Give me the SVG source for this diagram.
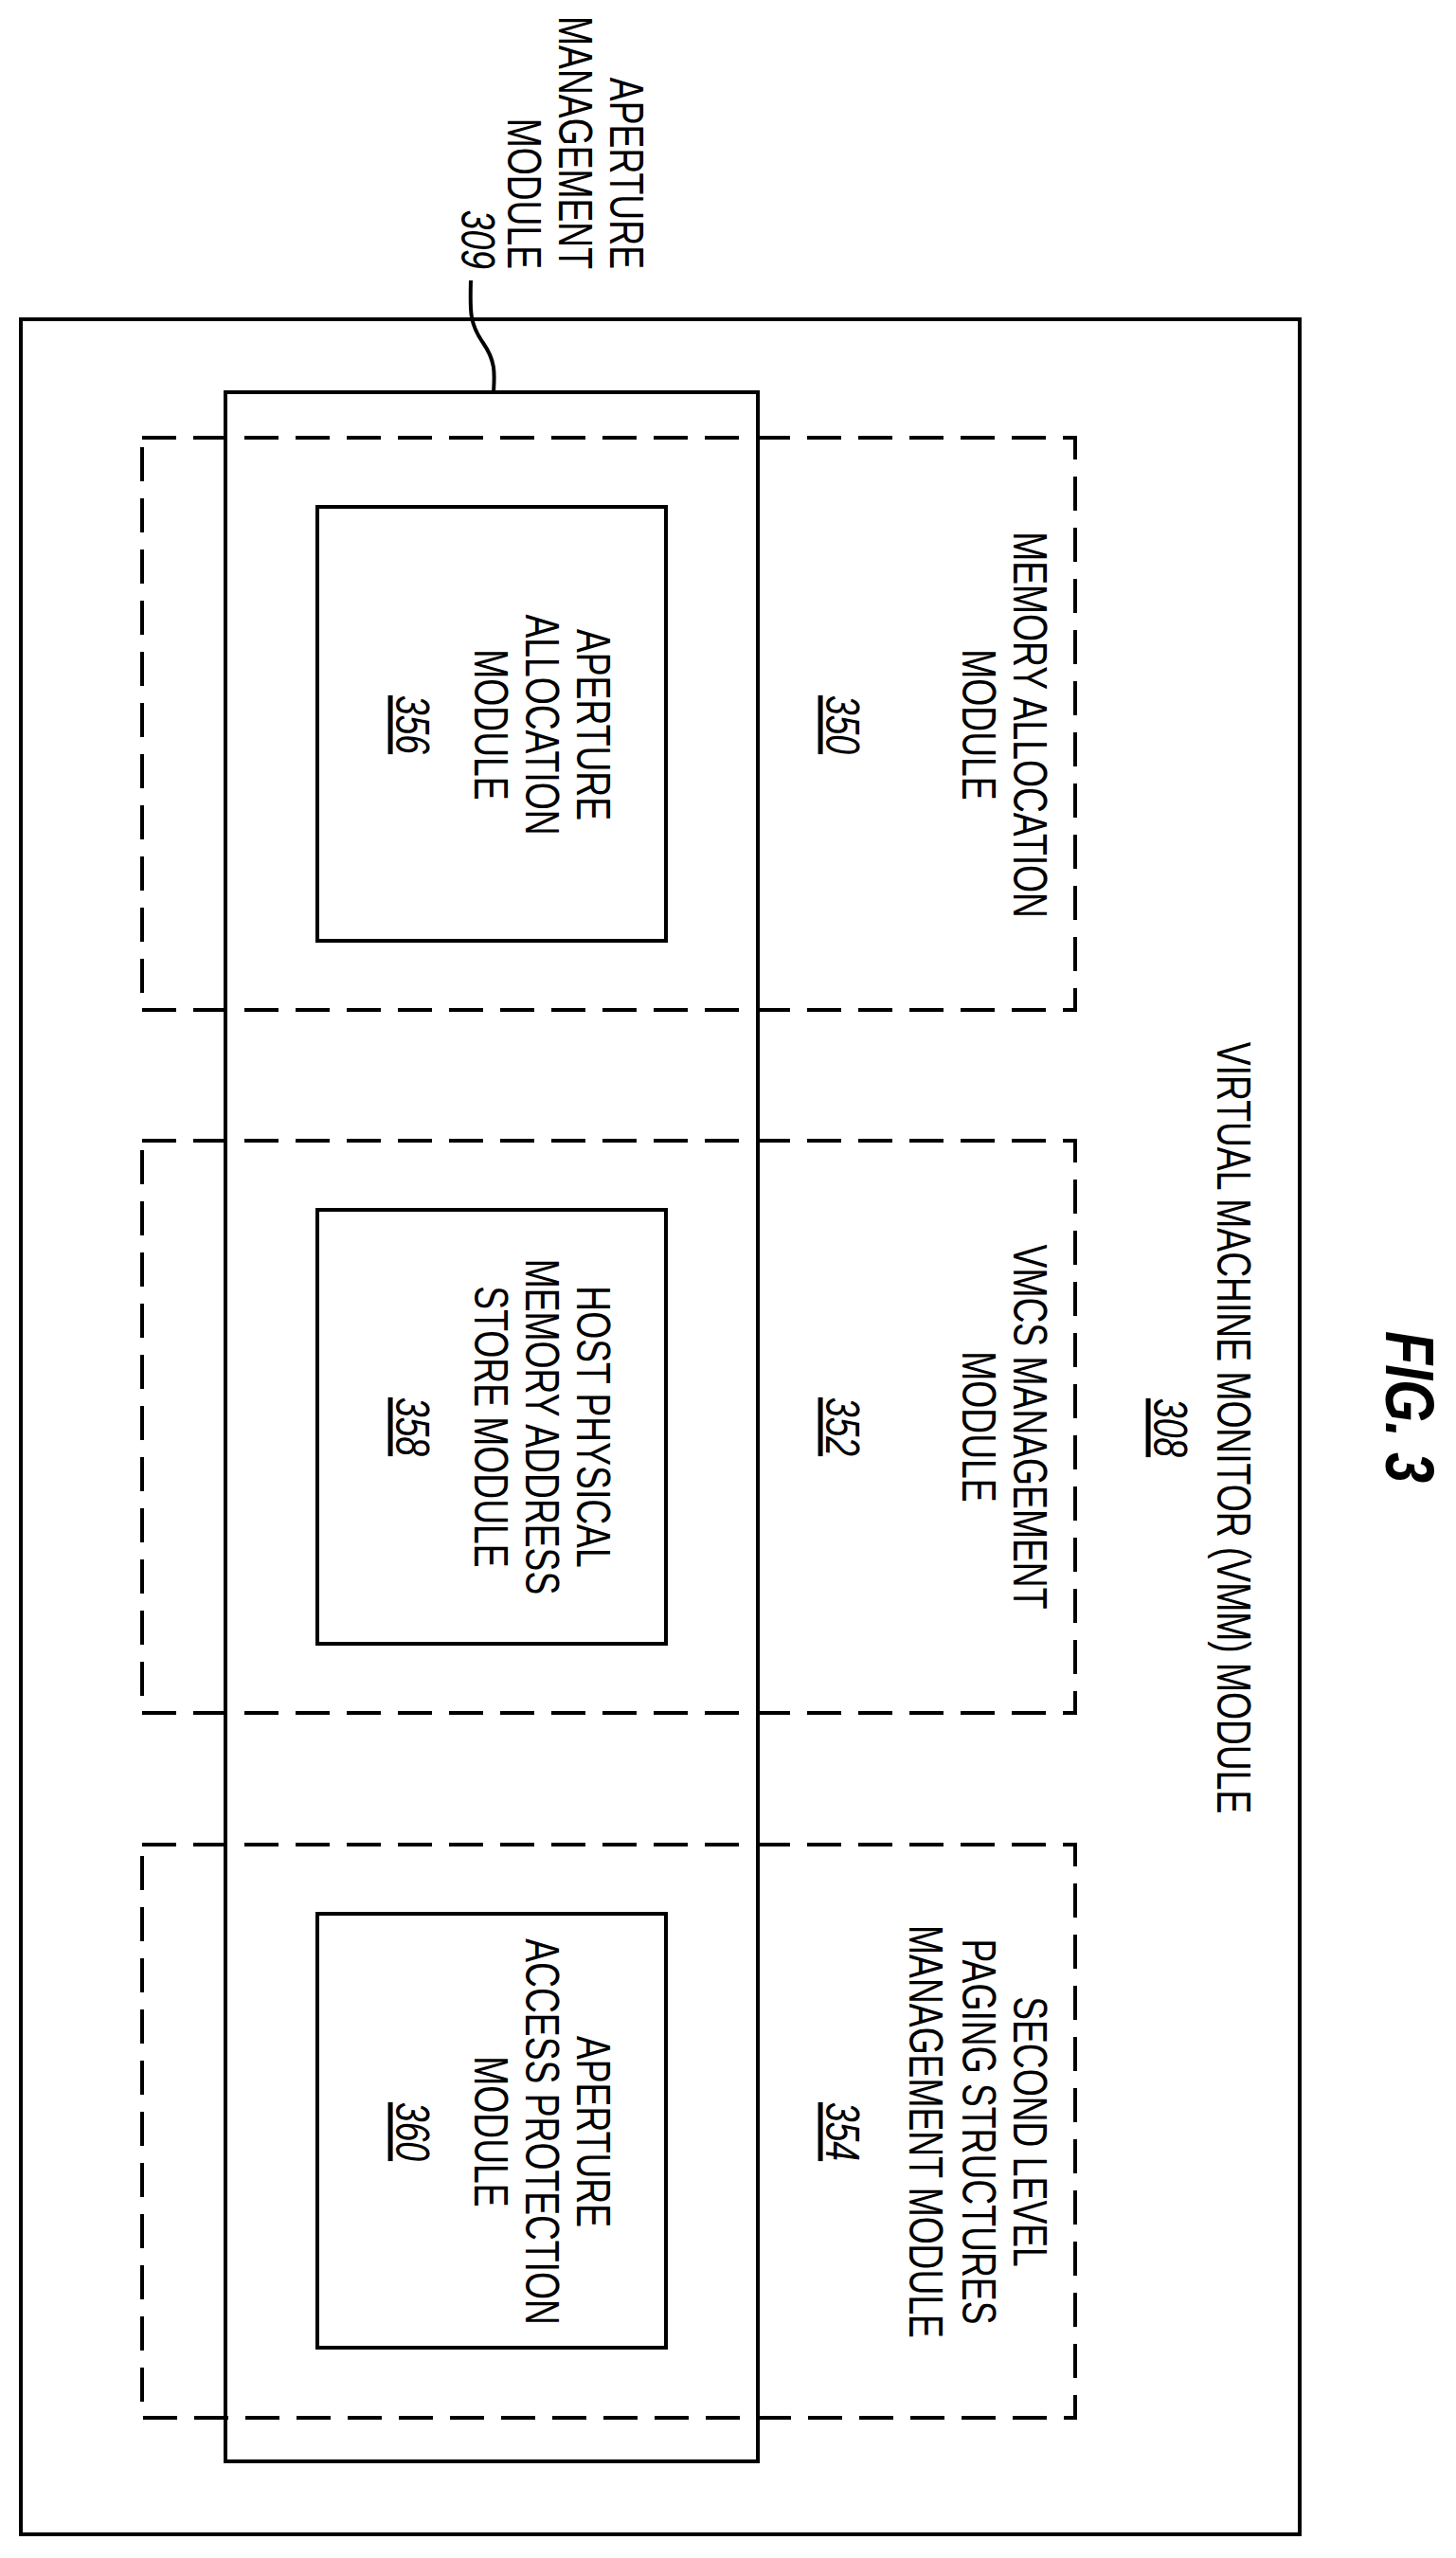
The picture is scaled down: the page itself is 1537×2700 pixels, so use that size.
<svg xmlns="http://www.w3.org/2000/svg" width="1537" height="2700" viewBox="0 0 1537 2700">
<style>
.s{fill:none;stroke:#000;stroke-width:4}
.d{fill:none;stroke:#000;stroke-width:4;stroke-dasharray:36 18}
text{font-family:"Liberation Sans",Arial,sans-serif;font-size:50px;fill:#000;text-anchor:middle}
.n{font-style:italic;text-decoration:underline}
</style>
<rect width="1537" height="2700" fill="#fff"/>
<g id="vmm">
<rect class="s" x="22" y="337" width="1350" height="2338"/>
<g transform="translate(0,1507) rotate(90) scale(0.745,1)">
<text y="-1285">VIRTUAL MACHINE MONITOR (VMM) MODULE</text>
<text y="-1218" class="n">308</text>
</g>
</g>
<g id="mem350">
<rect class="d" x="150" y="462" width="985" height="604"/>
<g transform="translate(0,765) rotate(90) scale(0.745,1)">
<text y="-1070">MEMORY ALLOCATION</text><text y="-1016">MODULE</text><text y="-872" class="n">350</text>
</g>
</g>
<g id="vmcs352">
<rect class="d" x="150" y="1204" width="985" height="604"/>
<g transform="translate(0,1506) rotate(90) scale(0.745,1)">
<text y="-1070">VMCS MANAGEMENT</text><text y="-1016">MODULE</text><text y="-872" class="n">352</text>
</g>
</g>
<g id="slp354">
<rect class="d" x="150" y="1947" width="985" height="605"/>
<g transform="translate(0,2250) rotate(90) scale(0.745,1)">
<text y="-1070">SECOND LEVEL</text><text y="-1016">PAGING STRUCTURES</text><text y="-960">MANAGEMENT MODULE</text><text y="-872" class="n">354</text>
</g>
</g>
<g id="apm309">
<rect class="s" x="238" y="414" width="562" height="2184"/>
<g transform="translate(0,284) rotate(90) scale(0.745,1)" style="text-anchor:end">
<text y="-644" style="text-anchor:end">APERTURE</text><text y="-590" style="text-anchor:end">MANAGEMENT</text><text y="-536" style="text-anchor:end">MODULE</text><text y="-487" style="text-anchor:end;font-style:italic">309</text>
</g>
</g>
<g id="apa356">
<rect class="s" x="335" y="535" width="368" height="458"/>
<g transform="translate(0,765) rotate(90) scale(0.745,1)">
<text y="-609">APERTURE</text><text y="-555">ALLOCATION</text><text y="-501">MODULE</text><text y="-418" class="n">356</text>
</g>
</g>
<g id="hpm358">
<rect class="s" x="335" y="1277" width="368" height="458"/>
<g transform="translate(0,1506) rotate(90) scale(0.745,1)">
<text y="-609">HOST PHYSICAL</text><text y="-555">MEMORY ADDRESS</text><text y="-501">STORE MODULE</text><text y="-418" class="n">358</text>
</g>
</g>
<g id="aap360">
<rect class="s" x="335" y="2020" width="368" height="458"/>
<g transform="translate(0,2250) rotate(90) scale(0.745,1)">
<text y="-609">APERTURE</text><text y="-555">ACCESS PROTECTION</text><text y="-501">MODULE</text><text y="-418" class="n">360</text>
</g>
</g>
<g id="connectors">
<path class="s" stroke-width="3" d="M497,296 C496,330 496,342 510,362 C524,382 522,396 521,414"/>
</g>
<g id="fig">
<g transform="translate(0,1485) rotate(90) scale(0.8,1)">
<text y="-1463" style="font-size:72px;font-weight:bold;font-style:italic">FIG. 3</text>
</g>
</g>
</svg>
